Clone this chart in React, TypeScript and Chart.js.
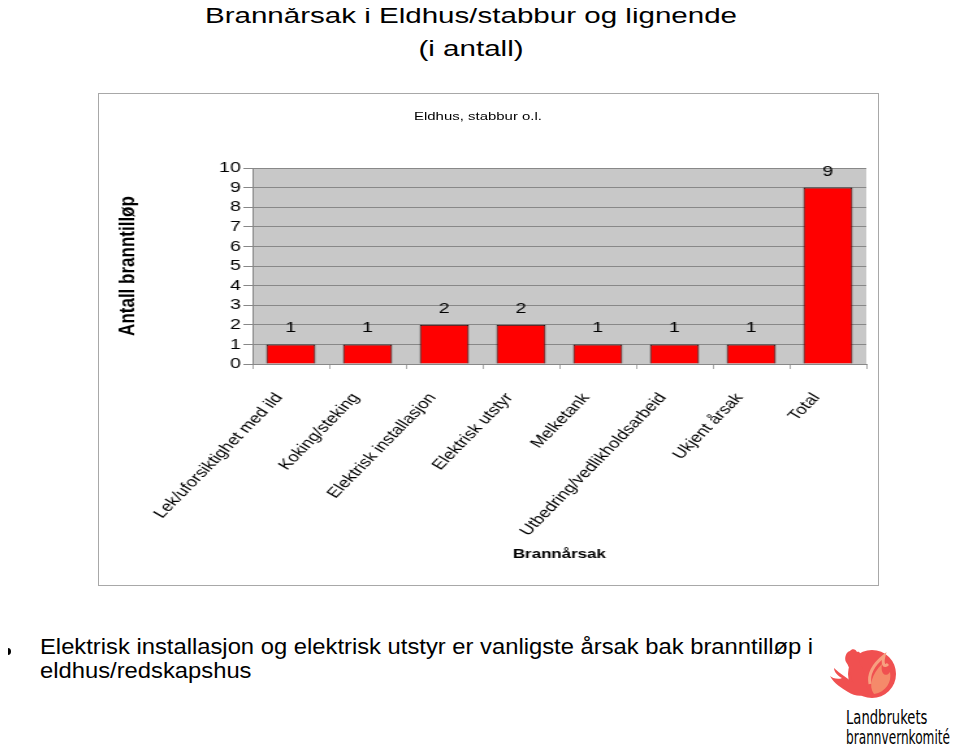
import React, { useEffect, useRef } from "react";
import { Chart, registerables } from "chart.js";

Chart.register(...registerables);

const categories = [
  "Lek/uforsiktighet med ild",
  "Koking/steking",
  "Elektrisk installasjon",
  "Elektrisk utstyr",
  "Melketank",
  "Utbedring/vedlikholdsarbeid",
  "Ukjent årsak",
  "Total",
];
const counts = [1, 1, 2, 2, 1, 1, 1, 9];
const yTicks = [0, 1, 2, 3, 4, 5, 6, 7, 8, 9, 10];

const FONT = "'Liberation Sans', Arial, sans-serif";
const STRETCH = 1.3;
const BOX_W = 779;
const BOX_H = 491;
const CANVAS_W = Math.round(BOX_W / STRETCH);

const plotBg = {
  id: "plotBg",
  beforeDraw(chart: any) {
    const { ctx, chartArea } = chart;
    ctx.save();
    ctx.fillStyle = "#c8c8c8";
    ctx.fillRect(chartArea.left, chartArea.top, chartArea.right - chartArea.left, chartArea.bottom - chartArea.top);
    ctx.restore();
  },
};

const valueLabels = {
  id: "valueLabels",
  afterDatasetsDraw(chart: any) {
    const { ctx } = chart;
    const meta = chart.getDatasetMeta(0);
    ctx.save();
    ctx.font = "15px " + FONT;
    ctx.fillStyle = "#000";
    ctx.textAlign = "center";
    ctx.textBaseline = "alphabetic";
    meta.data.forEach((bar: any, i: number) => {
      ctx.fillText(String(counts[i]), bar.x, bar.y - 12);
    });
    ctx.restore();
  },
};

function BarChart() {
  const ref = useRef<HTMLCanvasElement>(null);
  useEffect(() => {
    if (!ref.current) return;
    const chart = new Chart(ref.current, {
      type: "bar",
      data: {
        labels: categories,
        datasets: [
          {
            data: counts,
            backgroundColor: "#ff0000",
            borderColor: "#000000",
            borderWidth: 1,
            barPercentage: 0.64,
            categoryPercentage: 1,
          },
        ],
      },
      options: {
        responsive: false,
        animation: false,
        maintainAspectRatio: false,
        devicePixelRatio: 1,
        layout: { padding: { left: 8, top: 74, right: 9, bottom: 19 } },
        plugins: {
          legend: { display: false },
          tooltip: { enabled: false },
          title: { display: false },
        },
        scales: {
          x: {
            afterFit(scale: any) {
              scale.height = 202;
              scale.paddingLeft = 0;
              scale.paddingRight = 0;
            },
            grid: {
              offset: true,
              drawOnChartArea: false,
              drawTicks: true,
              tickLength: 5,
              color: "#aaaaaa",
            },
            border: { display: true, color: "#888888" },
            ticks: {
              maxRotation: 52.5,
              minRotation: 52.5,
              autoSkip: false,
              padding: 21,
              labelOffset: -9,
              color: "#000",
              font: { family: FONT, size: 14.2 },
            },
            title: {
              display: true,
              text: "Brannårsak",
              color: "#000",
              font: { family: FONT, size: 13, weight: "bold" },
            },
          },
          y: {
            min: 0,
            max: 10,
            afterFit(scale: any) {
              scale.width = 110;
            },
            afterBuildTicks(scale: any) {
              scale.ticks = yTicks.map((v) => ({ value: v }));
            },
            grid: {
              color: "#888888",
              tickLength: 7,
              lineWidth: 1,
            },
            border: { display: true, color: "#888888" },
            ticks: {
              autoSkip: false,
              padding: 2,
              color: "#000",
              font: { family: FONT, size: 15 },
            },
            title: {
              display: true,
              text: "Antall branntilløp",
              color: "#000",
              font: { family: FONT, size: 17, weight: "bold" },
            },
          },
        },
      },
      plugins: [plotBg, valueLabels],
    } as any);
    return () => chart.destroy();
  }, []);
  return (
    <canvas
      ref={ref}
      width={CANVAS_W}
      height={BOX_H}
      style={{ width: BOX_W, height: BOX_H, display: "block" }}
    />
  );
}

const logoText: React.CSSProperties = {
  position: "absolute",
  left: 22,
  fontFamily: "'DejaVu Sans Condensed', 'DejaVu Sans', sans-serif",
  fontSize: 19,
  lineHeight: "20px",
  color: "#000",
  transformOrigin: "left top",
  whiteSpace: "nowrap",
};

function Logo() {
  return (
    <div style={{ position: "absolute", left: 824, top: 644, width: 136, height: 110 }}>
      <svg width="80" height="62" viewBox="0 0 80 62" style={{ position: "absolute", left: 0, top: 0 }}>
        <circle cx="48" cy="30" r="24" fill="#f05050" />
        <path d="M30 40 C26 34 27 24 22 18 C20 14 22 8 26 7 C28 4 32 5 33 8 C36 7 37 10 35 13 C34 18 38 22 40 28 C42 34 40 42 46 48 C40 54 30 52 24 48 C18 44 10 40 6 32 C8 34 14 36 18 34 C14 32 10 28 10 24 C16 30 24 34 30 40 Z" fill="#f05050" />
        <path d="M50 50 C44 42 48 30 58 20 C56 30 62 34 66 28 C68 38 62 48 50 50 Z" fill="#f58a6a" />
        <path d="M46 40 C44 30 50 20 60 12 C58 20 60 24 64 20" stroke="#f7a080" strokeWidth="3" fill="none" />
      </svg>
      <div style={{ ...logoText, top: 63, transform: "scaleX(0.77)" }}>Landbrukets</div>
      <div style={{ ...logoText, top: 83, transform: "scaleX(0.71)" }}>brannvernkomité</div>
    </div>
  );
}

export default function App() {
  return (
    <div style={{ position: "relative", width: 960, height: 756, margin: -8, background: "#fff", overflow: "hidden", fontFamily: FONT }}>
      <div
        style={{
          position: "absolute",
          left: 0,
          top: -1,
          width: 942,
          textAlign: "center",
          fontSize: 22.5,
          lineHeight: "33px",
          color: "#000",
          transform: "scaleX(1.313)",
          transformOrigin: "center top",
        }}
      >
        Brannårsak i Eldhus/stabbur og lignende
        <br />
        (i antall)
      </div>
      <div
        style={{
          position: "absolute",
          left: 98,
          top: 93,
          width: 781,
          height: 493,
          border: "1px solid #a8a8a8",
          boxSizing: "border-box",
          background: "#fff",
        }}
      >
        <BarChart />
        <div
          style={{
            position: "absolute",
            left: 0,
            width: 758,
            top: 16,
            textAlign: "center",
            fontSize: 11.5,
            color: "#000",
            transform: "scaleX(1.3)",
            transformOrigin: "center top",
          }}
        >
          Eldhus, stabbur o.l.
        </div>
      </div>
      <div style={{ position: "absolute", left: 4, top: 648, width: 7, height: 7, borderRadius: "50%", background: "#000" }} />
      <div
        style={{
          position: "absolute",
          left: 40,
          top: 635,
          fontSize: 21.5,
          lineHeight: "24px",
          color: "#000",
          whiteSpace: "nowrap",
          transform: "scaleX(1.106)",
          transformOrigin: "left top",
        }}
      >
        Elektrisk installasjon og elektrisk utstyr er vanligste årsak bak branntilløp i
        <br />
        eldhus/redskapshus
      </div>
      <Logo />
    </div>
  );
}
